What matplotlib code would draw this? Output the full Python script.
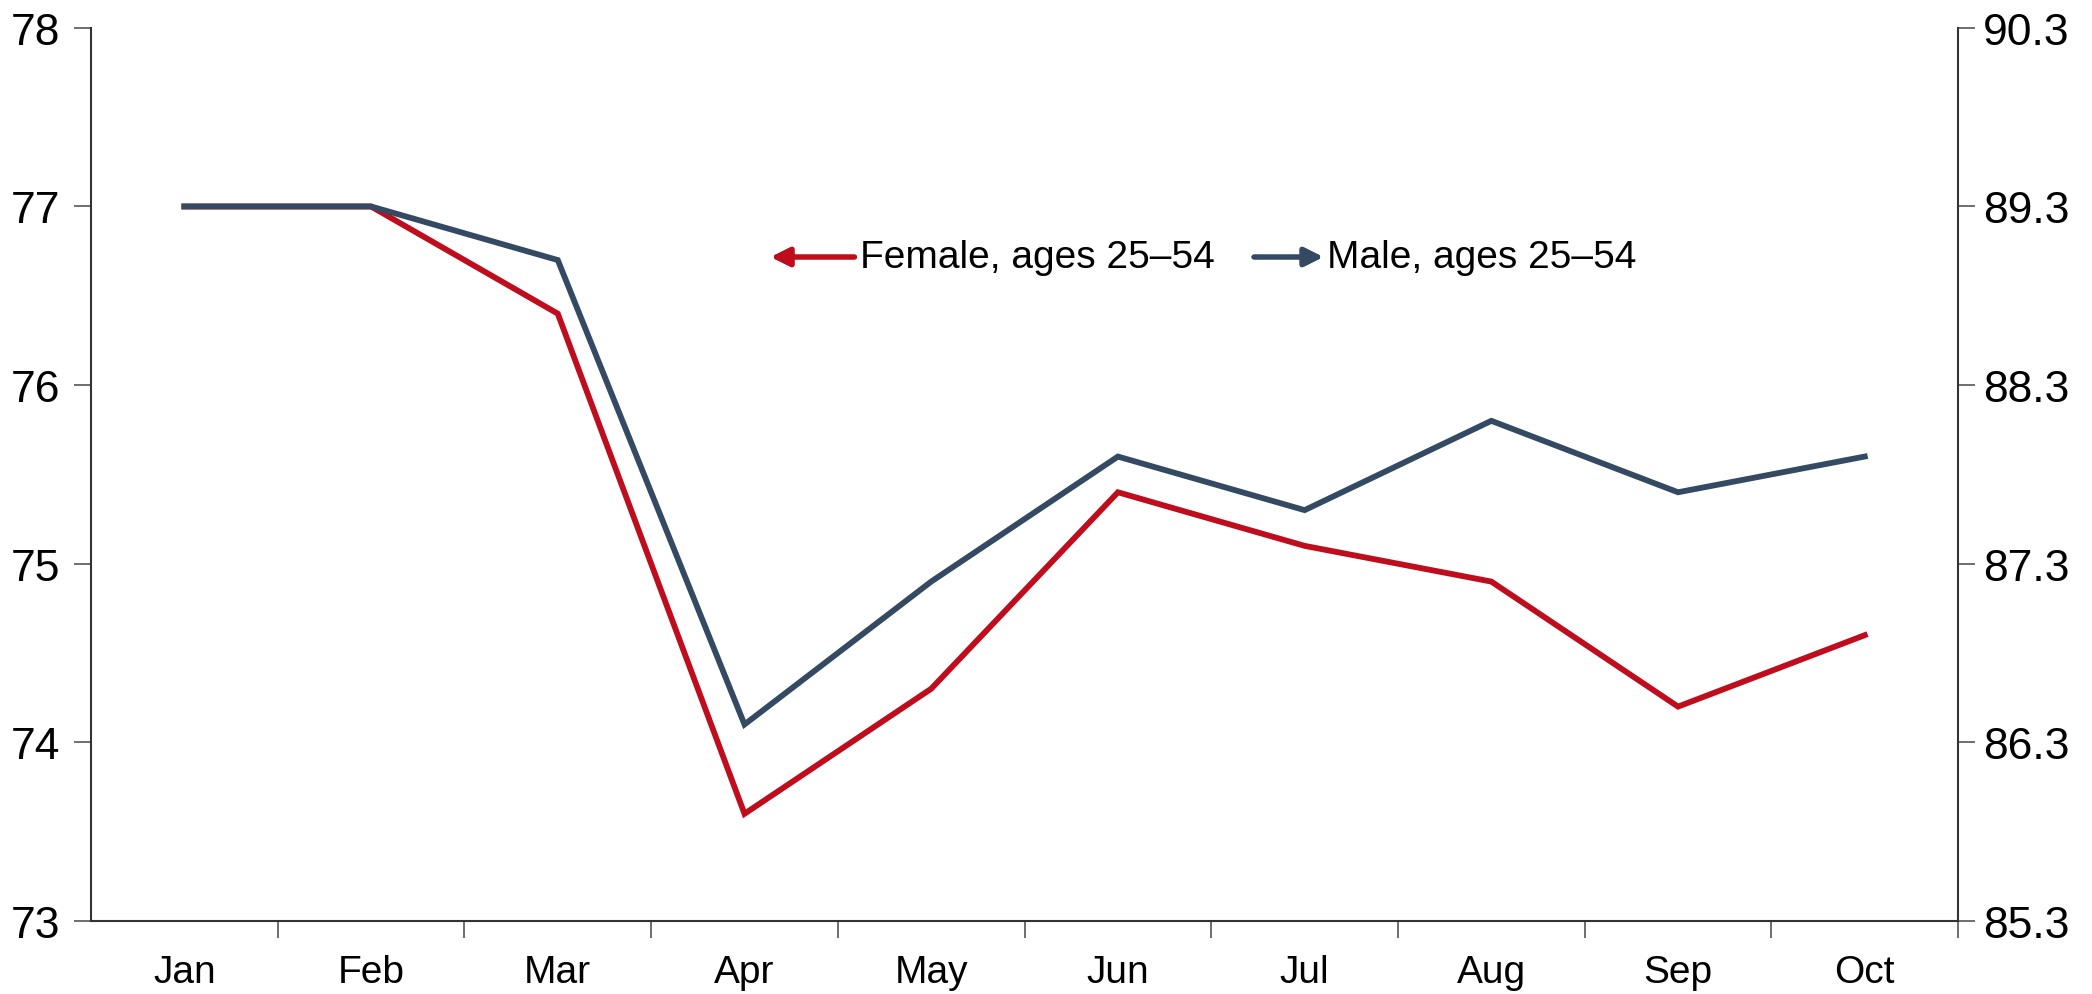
import matplotlib.pyplot as plt

plt.rcParams['font.family'] = ['Liberation Sans', 'DejaVu Sans']

months = ['Jan', 'Feb', 'Mar', 'Apr', 'May', 'Jun', 'Jul', 'Aug', 'Sep', 'Oct']
female = [77.0, 77.0, 76.4, 73.6, 74.3, 75.4, 75.1, 74.9, 74.2, 74.6]
male = [89.3, 89.3, 89.0, 86.4, 87.2, 87.9, 87.6, 88.1, 87.7, 87.9]
left_ticks = [73, 74, 75, 76, 77, 78]
right_ticks = [85.3, 86.3, 87.3, 88.3, 89.3, 90.3]

red = '#C00D1E'
navy = '#344A62'

fig = plt.figure(figsize=(20.92, 9.95), dpi=100)
ax = fig.add_axes([0.0435, 0.0734, 0.8925, 0.8976])
ax2 = ax.twinx()

x = list(range(len(months)))
ax.plot(x, female, color=red, lw=4.2, solid_joinstyle='miter')
ax2.plot(x, male, color=navy, lw=4.2, solid_joinstyle='miter')

ax.set_xlim(-0.5, len(months) - 0.5)
ax.set_ylim(73, 78)
ax2.set_ylim(85.3, 90.3)
ax.set_yticks(left_ticks)
ax.set_yticklabels([str(v) for v in left_ticks])
ax2.set_yticks(right_ticks)
ax2.set_yticklabels(['{:.1f}'.format(v) for v in right_ticks])

# month labels centred, tick marks between categories
ax.set_xticks(x)
ax.set_xticklabels(months, fontsize=28)
ax.tick_params(axis='x', which='major', length=0, pad=24)
ax.set_xticks([i + 0.5 for i in x], minor=True)
ax.tick_params(axis='x', which='minor', length=12, width=1.2, color='#555555')

ax.tick_params(axis='y', length=12, width=1.2, labelsize=32, pad=10, color='#555555')
ax2.tick_params(axis='y', length=12, width=1.2, labelsize=32, pad=6, color='#555555')

for a in (ax, ax2):
    a.spines['top'].set_visible(False)
    for s in ('left', 'right', 'bottom'):
        a.spines[s].set_linewidth(1.5)
        a.spines[s].set_color('#333333')
ax.spines['right'].set_visible(False)
ax2.spines['left'].set_visible(False)
ax2.spines['bottom'].set_visible(False)

# legend with arrows showing which axis each series uses
ly = 0.7407
fig.add_artist(plt.annotate('', xy=(0.3685, ly), xytext=(0.4085, ly), xycoords='figure fraction',
                            arrowprops=dict(arrowstyle='-|>', color=red, lw=3.6, mutation_scale=28,
                                            shrinkA=0, shrinkB=0)))
fig.text(0.411, ly, 'Female, ages 25\u201354', fontsize=28, va='center', ha='left')
fig.add_artist(plt.annotate('', xy=(0.6325, ly), xytext=(0.5994, ly), xycoords='figure fraction',
                            arrowprops=dict(arrowstyle='-|>', color=navy, lw=3.6, mutation_scale=28,
                                            shrinkA=0, shrinkB=0)))
fig.text(0.6343, ly, 'Male, ages 25\u201354', fontsize=28, va='center', ha='left')

fig.savefig('out.png', dpi=100)
